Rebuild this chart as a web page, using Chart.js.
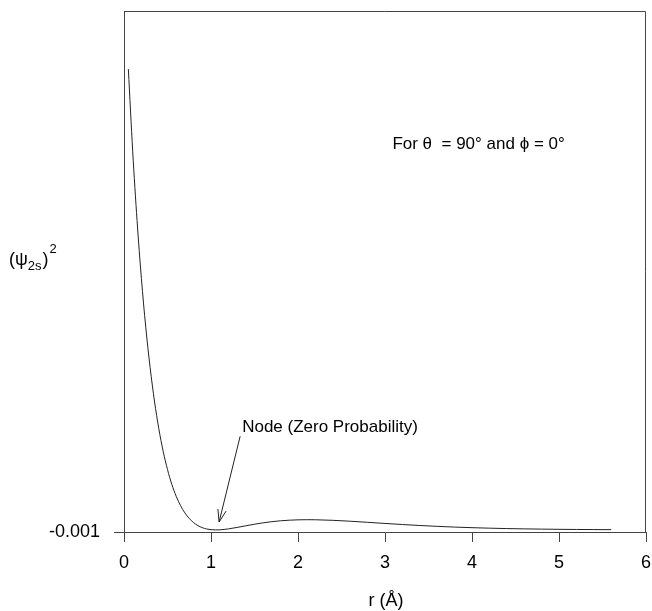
<!DOCTYPE html>
<html>
<head>
<meta charset="utf-8">
<script src="https://cdn.jsdelivr.net/npm/chart.js@4/dist/chart.umd.min.js"></script>
<style>
html,body{margin:0;padding:0;background:#fff;}
#c{display:block;}
</style>
</head>
<body>
<canvas id="c" width="652" height="611"></canvas>
<script>
// r in Angstrom
const rValues = [0.05,0.10,0.15,0.20,0.25,0.30,0.35,0.40,0.45,0.50,0.55,0.60,0.65,0.70,0.75,0.80,0.85,0.90,0.95,1.00,1.05,1.10,1.15,1.20,1.30,1.40,1.50,1.60,1.70,1.80,1.90,2.00,2.10,2.20,2.40,2.60,2.80,3.00,3.20,3.40,3.60,3.80,4.00,4.20,4.40,4.60,4.80,5.00,5.20,5.40,5.60];
// (psi_2s)^2
const psiSquared = [0.2220,0.1824,0.1491,0.1211,0.0977,0.0783,0.0621,0.0488,0.0379,0.0291,0.0219,0.0162,0.0117,0.00819,0.00552,0.00352,0.00208,0.00109,0.000465,0.000122,0.000002,0.000053,0.000231,0.000501,0.001205,0.00199,0.00275,0.00343,0.00398,0.00440,0.00469,0.00486,0.00492,0.00489,0.00463,0.00419,0.00366,0.00312,0.00260,0.00213,0.00172,0.00137,0.00108,0.000846,0.000655,0.000504,0.000386,0.000293,0.000222,0.000167,0.000125];
const xTickValues = [0,1,2,3,4,5,6];
const yTickValues = [-0.001];
const yTickLabels = ['-0.001'];

const FONT = '"Liberation Sans", Arial, sans-serif';
const AXIS_COLOR = '#444';

const decorPlugin = {
  id: 'decor',
  afterDraw(chart) {
    const ctx = chart.ctx;
    const a = chart.chartArea;
    const xs = chart.scales.x, ys = chart.scales.y;
    ctx.save();
    // top & right frame
    ctx.strokeStyle = AXIS_COLOR;
    ctx.lineWidth = 1;
    ctx.beginPath();
    ctx.moveTo(a.left, a.top + 0.5);
    ctx.lineTo(a.right - 0.5, a.top + 0.5);
    ctx.lineTo(a.right - 0.5, a.bottom);
    ctx.stroke();

    ctx.fillStyle = '#000';
    ctx.textBaseline = 'alphabetic';
    ctx.textAlign = 'left';
    // annotation: angles
    ctx.font = '17px ' + FONT;
    ctx.fillText('For \u03B8  = 90\u00B0 and \u03D5 = 0\u00B0', xs.getPixelForValue(3.085), 149);
    // annotation: node
    ctx.fillText('Node (Zero Probability)', xs.getPixelForValue(1.358), 432);

    // arrow
    const x1 = xs.getPixelForValue(1.335), y1 = ys.getPixelForValue(0.0451);
    const x2 = xs.getPixelForValue(1.093), y2 = ys.getPixelForValue(0.0038);
    ctx.strokeStyle = '#222';
    ctx.lineWidth = 1;
    ctx.beginPath();
    ctx.moveTo(x1, y1);
    ctx.lineTo(x2, y2);
    const ang = Math.atan2(y2 - y1, x2 - x1);
    const hl = 13, ha = 0.33;
    ctx.moveTo(x2 - hl * Math.cos(ang - ha), y2 - hl * Math.sin(ang - ha));
    ctx.lineTo(x2, y2);
    ctx.lineTo(x2 - hl * Math.cos(ang + ha), y2 - hl * Math.sin(ang + ha));
    ctx.stroke();

    // y title (psi_2s)^2
    let x = 9;
    ctx.font = '18px ' + FONT;
    ctx.fillText('(\u03C8', x, 265);
    x += ctx.measureText('(\u03C8').width;
    ctx.font = '13px ' + FONT;
    ctx.fillText('2s', x, 270);
    x += ctx.measureText('2s').width + 1;
    ctx.font = '18px ' + FONT;
    ctx.fillText(')', x, 265);
    x += ctx.measureText(')').width + 1;
    ctx.font = '13px ' + FONT;
    ctx.fillText('2', x, 253);

    // x title
    ctx.font = '18px ' + FONT;
    ctx.textAlign = 'center';
    ctx.fillText('r (\u00C5)', (a.left + a.right) / 2 + 1, 606);
    ctx.restore();
  }
};

new Chart(document.getElementById('c'), {
  type: 'line',
  data: {
    datasets: [{
      data: rValues.map((r, i) => ({x: r, y: psiSquared[i]})),
      borderColor: '#222',
      borderWidth: 1,
      pointRadius: 0,
      fill: false,
      cubicInterpolationMode: 'monotone'
    }]
  },
  options: {
    responsive: false,
    animation: false,
    devicePixelRatio: 1,
    layout: {padding: {top: 11, right: 6, left: 0, bottom: 0}},
    plugins: {legend: {display: false}, tooltip: {enabled: false}, title: {display: false}},
    scales: {
      x: {
        type: 'linear',
        min: 0, max: 6,
        afterBuildTicks: s => { s.ticks = xTickValues.map(v => ({value: v})); },
        afterFit: s => { s.height = 79; s.paddingLeft = 0; s.paddingRight = 0; },
        ticks: {color: '#000', font: {family: FONT, size: 18}, padding: 10, maxRotation: 0},
        grid: {drawOnChartArea: false, drawTicks: true, tickLength: 10, color: AXIS_COLOR, tickColor: AXIS_COLOR},
        border: {display: true, color: AXIS_COLOR, width: 1}
      },
      y: {
        type: 'linear',
        min: -0.001, max: 0.25,
        afterBuildTicks: s => { s.ticks = yTickValues.map(v => ({value: v})); },
        afterFit: s => { s.width = 124; s.paddingTop = 0; s.paddingBottom = 0; },
        ticks: {color: '#000', font: {family: FONT, size: 18}, padding: 14,
          callback: (v, i) => yTickLabels[i]},
        grid: {drawOnChartArea: false, drawTicks: true, tickLength: 10, color: AXIS_COLOR, tickColor: AXIS_COLOR},
        border: {display: true, color: AXIS_COLOR, width: 1}
      }
    }
  },
  plugins: [decorPlugin]
});
</script>
</body>
</html>
